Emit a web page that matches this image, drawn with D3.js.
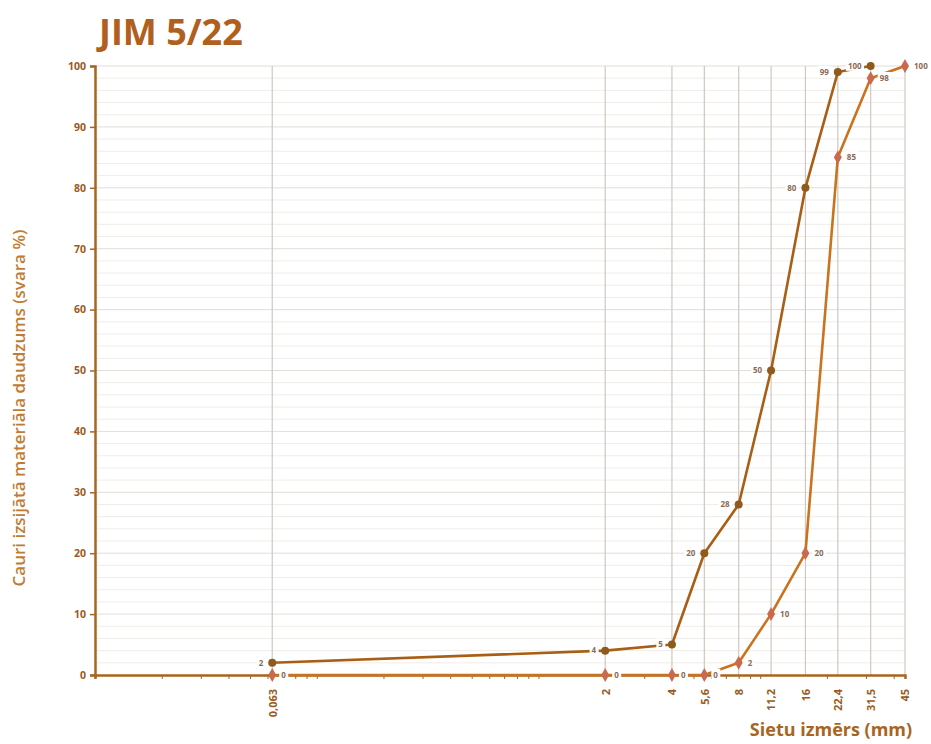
<!DOCTYPE html>
<html><head><meta charset="utf-8">
<script src="https://cdn.jsdelivr.net/npm/d3@7"></script>
<style>body{margin:0;background:#fff;} svg{display:block;}</style>
</head><body>
<svg id="c" width="931" height="744"></svg>
<script>
const sieves = [0.063, 2, 4, 5.6, 8, 11.2, 16, 22.4, 31.5, 45];
const sieveLabels = ["0,063","2","4","5,6","8","11,2","16","22,4","31,5","45"];
const lowerCurve = [2, 4, 5, 20, 28, 50, 80, 99, 100, null];
const upperCurve = [0, 0, 0, 0, 2, 10, 20, 85, 98, 100];
const yTicks = [0,10,20,30,40,50,60,70,80,90,100];
const title = "JIM 5/22";
const yTitle = "Cauri izsijātā materiāla daudzums (svara %)";
const xTitle = "Sietu izmērs (mm)";

const svg = d3.select("#c");
const L = 95, R = 905, T = 66, B = 675;
const x = d3.scaleLog().domain([0.01, 45]).range([L, R]);
const y = d3.scaleLinear().domain([0, 100]).range([B, T]);
const brown = "#a9641f";
const font = "'Open Sans', 'Liberation Sans', sans-serif";

// minor horizontal grid
svg.append("g").selectAll("line").data(d3.range(0, 101, 2).filter(v => v % 10 !== 0))
  .join("line").attr("x1", L).attr("x2", R).attr("y1", d => y(d)).attr("y2", d => y(d))
  .attr("stroke", "#f0ede8").attr("stroke-width", 1);
// major horizontal grid
svg.append("g").selectAll("line").data(yTicks.filter(v => v > 0))
  .join("line").attr("x1", L).attr("x2", R).attr("y1", d => y(d)).attr("y2", d => y(d))
  .attr("stroke", "#e2ded8").attr("stroke-width", 1);
// vertical grid at sieves
svg.append("g").selectAll("line").data(sieves)
  .join("line").attr("x1", d => x(d)).attr("x2", d => x(d)).attr("y1", T).attr("y2", B)
  .attr("stroke", "#cfc8c0").attr("stroke-width", 1.2);

// y axis
const yAxis = svg.append("g").attr("transform", `translate(${L},0)`)
  .call(d3.axisLeft(y).tickValues(yTicks).tickSize(5).tickPadding(4));
yAxis.select(".domain").attr("stroke", brown).attr("stroke-width", 2.5);
yAxis.selectAll(".tick line").attr("stroke", brown).attr("stroke-width", 1.5);
yAxis.selectAll("text").attr("fill", "#9a5a22").attr("font-family", font)
  .attr("font-weight", "bold").attr("font-size", 10.5);

// x axis with minor log ticks
const minor = x.ticks().filter(v => v >= 0.01 && v <= 45);
const xAxisMinor = svg.append("g").attr("transform", `translate(0,${B})`)
  .call(d3.axisBottom(x).tickValues(minor).tickSize(4).tickFormat(""));
xAxisMinor.select(".domain").attr("stroke", brown).attr("stroke-width", 2.5);
xAxisMinor.selectAll(".tick line").attr("stroke", brown).attr("stroke-width", 1);

const xAxis = svg.append("g").attr("transform", `translate(0,${B})`)
  .call(d3.axisBottom(x).tickValues(sieves).tickSize(0).tickFormat((d, i) => sieveLabels[i]));
xAxis.select(".domain").remove();
xAxis.selectAll("text")
  .attr("transform", "rotate(-90)")
  .attr("text-anchor", "end").attr("dx", "-14").attr("dy", "0.35em").attr("y", 0)
  .attr("fill", "#9a5a22").attr("font-family", font).attr("font-weight", "bold").attr("font-size", 11);

// lines
const line = d3.line().defined(d => d[1] != null).x(d => x(d[0])).y(d => y(d[1]));
const s1 = sieves.map((s, i) => [s, lowerCurve[i]]).filter(d => d[1] != null);
const s2 = sieves.map((s, i) => [s, upperCurve[i]]);

svg.append("path").datum(s2).attr("d", line).attr("fill", "none")
  .attr("stroke", "#c9731f").attr("stroke-width", 2.6).attr("stroke-linejoin", "round");
svg.append("path").datum(s1).attr("d", line).attr("fill", "none")
  .attr("stroke", "#a85e14").attr("stroke-width", 2.6).attr("stroke-linejoin", "round");

// data labels with white background
function labels(data, side, color) {
  const g = svg.append("g");
  data.forEach(d => {
    const px = x(d[0]), py = y(d[1]);
    const t = g.append("text").text(d[1])
      .attr("x", side === "left" ? px - 9 : px + 9).attr("y", py).attr("dy", "0.35em")
      .attr("text-anchor", side === "left" ? "end" : "start")
      .attr("font-family", font).attr("font-size", 8).attr("font-weight", "bold").attr("fill", color);
    const bb = t.node().getBBox();
    g.insert("rect", "text").attr("x", bb.x - 2).attr("y", bb.y).attr("width", bb.width + 4)
      .attr("height", bb.height).attr("fill", "#fff");
  });
}
labels(s2, "right", "#8a6a58");
labels(s1, "left", "#8a6a58");

// markers
svg.append("g").selectAll("path").data(s2).join("path")
  .attr("transform", d => `translate(${x(d[0])},${y(d[1])})`)
  .attr("d", d3.symbol().type(d3.symbolDiamond).size(55))
  .attr("fill", "#c9694f");
svg.append("g").selectAll("circle").data(s1).join("circle")
  .attr("cx", d => x(d[0])).attr("cy", d => y(d[1])).attr("r", 4)
  .attr("fill", "#8f5a1c");

// titles
svg.append("text").text(title).attr("x", 99).attr("y", 45)
  .attr("font-family", font).attr("font-weight", "bold").attr("font-size", 36).attr("fill", "#b0601c");
svg.append("text").text(yTitle)
  .attr("transform", `translate(25,408) rotate(-90)`)
  .attr("text-anchor", "middle").attr("font-family", font).attr("font-weight", "600")
  .attr("font-size", 17).attr("fill", "#c27b32");
svg.append("text").text(xTitle).attr("x", 831).attr("y", 736).attr("text-anchor", "middle")
  .attr("font-family", font).attr("font-weight", "bold").attr("font-size", 18).attr("fill", "#a9641f");
</script>
</body></html>
